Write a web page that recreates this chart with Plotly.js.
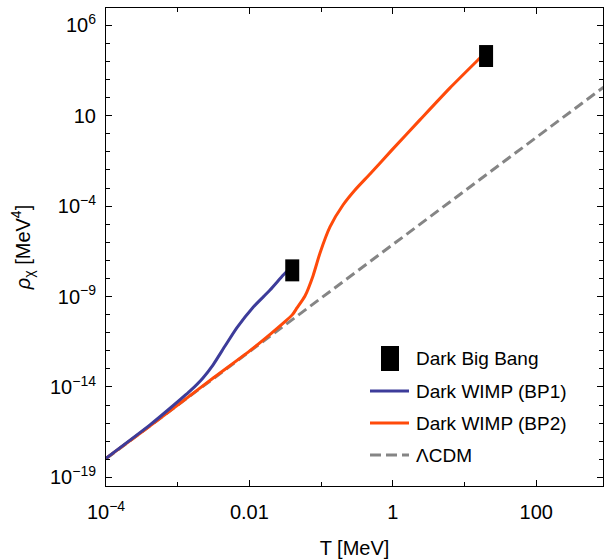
<!DOCTYPE html>
<html>
<head>
<meta charset="utf-8">
<script src="https://cdn.plot.ly/plotly-3.0.1.min.js"></script>
<style>html,body{margin:0;padding:0;background:#fff;}#chart{width:604px;height:559px;}</style>
</head>
<body>
<div id="chart"></div>
<script>
// ---- data ----
const T_lcdm   = [1e-4, 1e-3, 1e-2, 1e-1, 1, 10, 100, 870];
const rho_lcdm = [1.07e-18, 9.8e-16, 8.9e-13, 8.3e-10, 7.6e-7, 6.9e-4, 0.63, 380];

const T_bp1   = [1e-4, 4.11e-4, 7.82e-4, 1.49e-3, 2.25e-3, 3.10e-3, 4.57e-3, 6.71e-3, 1.12e-2, 1.94e-2, 2.97e-2, 3.93e-2];
const rho_bp1 = [1.12e-18, 7.9e-17, 6.6e-16, 6.0e-15, 3.16e-14, 1.62e-13, 1.82e-12, 1.9e-11, 2.5e-10, 2.29e-9, 1.55e-8, 4.9e-8];

const T_bp2   = [1e-4, 3.16e-4, 1e-3, 3.16e-3, 1e-2, 2.0e-2, 3.16e-2, 3.98e-2, 4.61e-2, 5.96e-2, 7.71e-2, 9.66e-2, 0.133, 0.202, 0.297, 0.481, 0.975, 2.39, 6.28, 16.4, 19.95];
const rho_bp2 = [1.12e-18, 3.2e-17, 1.0e-15, 3.2e-14, 9.5e-13, 8.9e-12, 4.2e-11, 1.0e-10, 2.34e-10, 1.07e-9, 1.38e-8, 2.57e-7, 7.1e-6, 1.15e-4, 7.8e-4, 6.0e-3, 0.129, 5.9, 347, 1.55e4, 3.4e4];

const T_dbb   = [0.0396, 20];
const rho_dbb = [2.8e-8, 2.0e4];

const legendLabels = ["Dark Big Bang", "Dark WIMP (BP1)", "Dark WIMP (BP2)", "\u039BCDM"];

const xTickVals = [1e-4, 1e-2, 1, 100];
const xTickText = ["10<sup>\u22124</sup>", "0.01", "1", "100"];
const xMinorVals = [1e-3, 1e-1, 10, 1000];
const yTickVals = [1e-19, 1e-14, 1e-9, 1e-4, 10, 1e6];
const yTickText = ["10<sup>\u221219</sup>", "10<sup>\u221214</sup>", "10<sup>\u22129</sup>", "10<sup>\u22124</sup>", "10", "10<sup>6</sup>"];
const yMinorVals = [1e-18,1e-17,1e-16,1e-15,1e-13,1e-12,1e-11,1e-10,1e-8,1e-7,1e-6,1e-5,1e-3,1e-2,1e-1,1,100,1e3,1e4,1e5];

// ---- styling ----
const BLUE = "#3d3c9a", ORANGE = "#ff4a0a", GRAY = "#858585";
const FONT = "Liberation Sans, Arial, Helvetica, sans-serif";
const W = 604, H = 559, M = {l:106, r:1, t:8, b:73};
const PW = W - M.l - M.r, PH = H - M.t - M.b;
const px = v => (v - M.l) / PW;
const py = v => (H - M.b - v) / PH;

const traces = [
  {x:T_lcdm, y:rho_lcdm, mode:"lines", line:{color:GRAY, width:3, dash:"10px,5px"}, showlegend:false, name:legendLabels[3]},
  {x:T_bp2, y:rho_bp2, mode:"lines", line:{color:ORANGE, width:3, shape:"spline", smoothing:0.6}, showlegend:false, name:legendLabels[2]},
  {x:T_bp1, y:rho_bp1, mode:"lines", line:{color:BLUE, width:3, shape:"spline", smoothing:0.6}, showlegend:false, name:legendLabels[1]},
  {x:T_dbb, y:rho_dbb, mode:"markers", marker:{symbol:"line-ns", size:15.7, color:"#000", line:{color:"#000", width:14}}, showlegend:false, name:legendLabels[0]}
];

// manual legend (glyphs + text)
const legY = [358.5, 391, 423, 455];
const shapes = [
  {type:"rect", xref:"paper", yref:"paper", x0:px(381), x1:px(399), y0:py(371), y1:py(346), fillcolor:"#000", line:{width:0}},
  {type:"line", xref:"paper", yref:"paper", x0:px(370), x1:px(409), y0:py(legY[1]), y1:py(legY[1]), line:{color:BLUE, width:3}},
  {type:"line", xref:"paper", yref:"paper", x0:px(370), x1:px(409), y0:py(legY[2]), y1:py(legY[2]), line:{color:ORANGE, width:3}},
  {type:"line", xref:"paper", yref:"paper", x0:px(370), x1:px(409), y0:py(legY[3]), y1:py(legY[3]), line:{color:GRAY, width:3, dash:"11px,5px"}}
];
const annotations = legendLabels.map((t, i) => ({
  xref:"paper", yref:"paper", x:px(414), y:py(legY[i]), xanchor:"left", yanchor:"middle",
  text:t, showarrow:false, font:{family:FONT, size:19, color:"#000"}
}));

const axisCommon = {
  type:"log", showgrid:false, zeroline:false, showline:true, linecolor:"#000", linewidth:1,
  mirror:"allticks", ticks:"inside", ticklen:6, tickwidth:1, tickcolor:"#000",
  tickfont:{family:FONT, size:20, color:"#000"}, tickmode:"array"
};

const layout = {
  width:W, height:H, margin:M, paper_bgcolor:"#fff", plot_bgcolor:"#fff",
  showlegend:false,
  xaxis: Object.assign({}, axisCommon, {
    range:[-4, -4 + PW/71.7], tickvals:xTickVals, ticktext:xTickText, ticklabelstandoff:8,
    minor:{tickmode:"array", tickvals:xMinorVals, ticks:"inside", ticklen:4, tickcolor:"#000", showgrid:false},
    title:{text:"T [MeV]", font:{family:FONT, size:20, color:"#000"}, standoff:18}
  }),
  yaxis: Object.assign({}, axisCommon, {
    range:[-19.48, -19.48 + PH/18.08], tickvals:yTickVals, ticktext:yTickText, ticklabelstandoff:5,
    minor:{tickmode:"array", tickvals:yMinorVals, ticks:"inside", ticklen:4, tickcolor:"#000", showgrid:false},
    title:{text:"<i>\u03C1</i><sub>\u03C7</sub> [MeV<sup>4</sup>]", font:{family:FONT, size:20, color:"#000"}, standoff:14}
  }),
  shapes:shapes, annotations:annotations
};

Plotly.newPlot("chart", traces, layout, {displayModeBar:false});
</script>
</body>
</html>
